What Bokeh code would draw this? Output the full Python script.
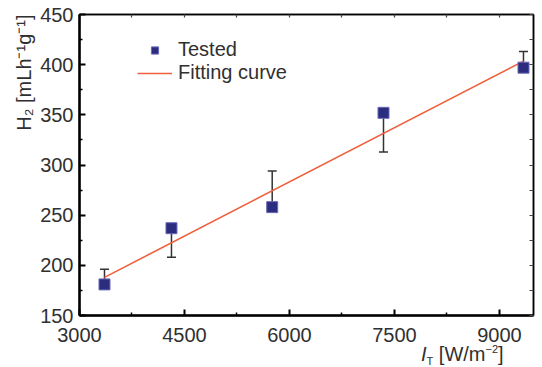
from bokeh.plotting import figure
from bokeh.layouts import column
from bokeh.models import (ColumnDataSource, Whisker, TeeHead, FixedTicker, LinearAxis,
                          Range1d, Legend, LegendItem, Title, Div)
from bokeh.embed import file_html
from bokeh.resources import INLINE

# ---- data ----
intensity = [3357, 4314, 5753, 7343, 9343]
tested = [181, 237, 258, 352, 397]
err_low = [180, 208, 254, 313, 394]
err_high = [196, 236, 294, 355, 413]
fit_x = [3357, 9343]
fit_y = [188, 403.5]
x_ticks = [3000, 4500, 6000, 7500, 9000]
x_minor = [3750, 5250, 6750, 8250]
y_ticks = [150, 200, 250, 300, 350, 400, 450]
y_minor = [175, 225, 275, 325, 375, 425]

FONT = "Liberation Sans"
TXT = "#303030"

src = ColumnDataSource(dict(x=intensity, y=tested, lo=err_low, hi=err_high))

p = figure(width=542, height=352, output_backend="svg", toolbar_location=None,
           x_range=Range1d(3000, 9486), y_range=Range1d(150, 450),
           min_border_left=79, min_border_right=9, min_border_top=14, min_border_bottom=37)
p.grid.visible = False
p.outline_line_color = "black"
p.outline_line_width = 1.5
p.background_fill_color = "white"
p.border_fill_color = "white"

p.xaxis.ticker = FixedTicker(ticks=x_ticks, minor_ticks=x_minor)
p.yaxis.ticker = FixedTicker(ticks=y_ticks, minor_ticks=y_minor)
for ax in (p.xaxis[0], p.yaxis[0]):
    ax.axis_line_width = 2.5
    ax.axis_line_color = "black"
    ax.major_tick_in = 6
    ax.major_tick_out = 0
    ax.minor_tick_in = 3
    ax.minor_tick_out = 0
    ax.major_tick_line_width = 2
    ax.minor_tick_line_width = 1.5
    ax.major_label_text_font = FONT
    ax.major_label_text_font_size = "20px"
    ax.major_label_text_color = TXT
p.xaxis.major_label_standoff = 12
p.yaxis.major_label_standoff = 6

# mirrored tick marks on the right and top edges (no labels)
right = LinearAxis(ticker=FixedTicker(ticks=[], minor_ticks=y_ticks + y_minor),
                   minor_tick_in=4, minor_tick_out=0, minor_tick_line_width=1.2,
                   minor_tick_line_color="#444444", axis_line_width=1.5)
p.add_layout(right, "right")
top = LinearAxis(ticker=FixedTicker(ticks=[], minor_ticks=x_ticks + x_minor),
                 minor_tick_in=3, minor_tick_out=0, minor_tick_line_width=1.2,
                 minor_tick_line_color="#444444", axis_line_width=1.5)
p.add_layout(top, "above")

# error bars
wk = Whisker(source=src, base="x", lower="lo", upper="hi", line_color="#333333", line_width=1.5,
             upper_head=TeeHead(size=9, line_color="#333333", line_width=1.5),
             lower_head=TeeHead(size=9, line_color="#333333", line_width=1.5))
p.add_layout(wk)

fit = p.line(fit_x, fit_y, line_color="#f0603c", line_width=1.6)
pts = p.scatter("x", "y", source=src, marker="square", size=11,
                fill_color="#2d2d80", line_color="#6a6ab8", line_width=1)

leg = Legend(items=[LegendItem(label="Tested", renderers=[pts]),
                    LegendItem(label="Fitting curve", renderers=[fit])],
             location=(58, 231), glyph_width=35, glyph_height=18, spacing=0,
             padding=0, margin=0, label_standoff=6, border_line_color=None,
             background_fill_alpha=0, label_text_font=FONT,
             label_text_font_size="20px", label_text_color=TXT)
p.add_layout(leg)

# y axis title
p.add_layout(Title(text="H\u2082 [mLh\u207b\u00b9g\u207b\u00b9]", align="right",
                   text_font=FONT, text_font_size="20px", text_color=TXT,
                   text_font_style="normal", standoff=6, offset=0), "left")

# x axis title (HTML text for italic I with subscript T)
xlabel = Div(text='<i>I</i><span style="font-size:11px;position:relative;top:4px">T</span>'
                  ' [W/m<span style="font-size:11px;position:relative;top:-8px">\u22122</span>]',
             width=120, height=15, margin=(0, 0, 0, 421),
             styles={"font-family": FONT, "font-size": "20px", "color": TXT,
                     "line-height": "20px", "white-space": "nowrap",
                     "position": "relative", "top": "-8px"})

open("out.html", "w").write(file_html(column(p, xlabel, spacing=0), INLINE))
